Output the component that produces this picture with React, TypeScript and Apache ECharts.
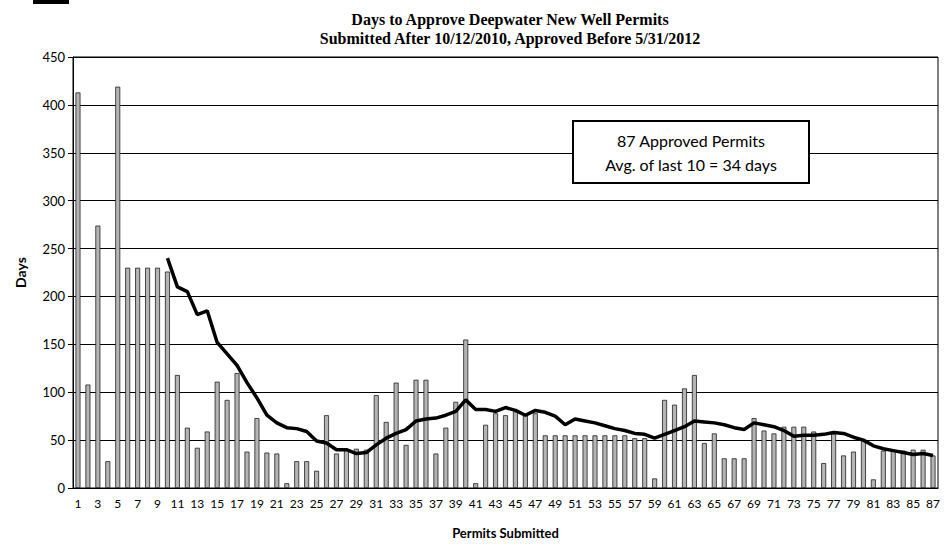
import React, { useEffect, useRef } from "react";
import * as echarts from "echarts";

const permits: string[] = Array.from({ length: 87 }, (_, i) => String(i + 1));

const daysToApprove: number[] = [
  413, 108, 274, 28, 419, 230, 230, 230, 230, 226,
  118, 63, 42, 59, 111, 92, 120, 38, 73, 37,
  36, 5, 28, 28, 18, 76, 36, 40, 41, 40,
  97, 69, 110, 45, 113, 113, 36, 63, 90, 155,
  5, 66, 78, 76, 80, 76, 78, 55, 55, 55,
  55, 55, 55, 55, 55, 55, 52, 52, 10, 92,
  87, 104, 118, 47, 57, 31, 31, 31, 73, 60,
  57, 64, 64, 64, 59, 26, 57, 34, 38, 49,
  9, 39, 39, 39, 40, 40, 34,
];

// moving-average line, for permits 10..87
const maStart = 10;
const movingAvg: number[] = [
  240, 210, 205, 181, 185, 152, 140, 128, 110, 94,
  76, 68, 63, 62, 59, 49, 47, 40, 40, 36,
  37, 45, 52, 57, 61, 70, 72, 73, 76, 80,
  92, 82, 82, 80, 84, 81, 76, 81, 79, 75,
  66, 72, 70, 68, 65, 62, 60, 57, 56, 52,
  56, 60, 64, 70, 69, 68, 66, 63, 61, 68,
  66, 64, 60, 54, 55, 55, 56, 58, 57, 53,
  50, 44, 41, 39, 37, 35, 36, 34,
];

const yTicks = { min: 0, max: 450, interval: 50 };
const titleLines = [
  "Days to Approve Deepwater New Well Permits",
  "Submitted After 10/12/2010, Approved Before 5/31/2012",
];
const noteLines = ["87 Approved Permits", "Avg. of last 10 = 34 days"];

export default function App() {
  const ref = useRef<HTMLDivElement>(null);
  useEffect(() => {
    if (!ref.current) return;
    const chart = echarts.init(ref.current, undefined, { renderer: "svg" });
    const lineData = permits.map((_, i) =>
      i + 1 >= maStart ? movingAvg[i + 1 - maStart] : null
    );
    chart.setOption({
      animation: false,
      backgroundColor: "#fff",
      title: {
        text: titleLines.join("\n"),
        left: 505,
        top: 5,
        textAlign: "center",
        textStyle: {
          fontFamily: "Liberation Serif",
          fontWeight: "bold",
          fontSize: 16,
          lineHeight: 19,
          color: "#000",
        },
      },
      grid: {
        left: 73,
        right: 12,
        top: 57,
        bottom: 62,
        show: true,
        borderColor: "#000",
        borderWidth: 1,
      },
      xAxis: {
        type: "category",
        data: permits,
        name: "Permits Submitted",
        nameLocation: "middle",
        nameGap: 38,
        nameTextStyle: { fontFamily: "Lato", fontWeight: "bold", fontSize: 13, color: "#000" },
        axisLine: { lineStyle: { color: "#000", width: 1 } },
        axisTick: { show: false },
        axisLabel: { interval: 1, fontFamily: "Lato", fontSize: 12, color: "#000", margin: 9 },
      },
      yAxis: {
        type: "value",
        min: yTicks.min,
        max: yTicks.max,
        interval: yTicks.interval,
        name: "Days",
        nameLocation: "middle",
        nameGap: 46,
        nameTextStyle: { fontFamily: "Lato", fontWeight: "bold", fontSize: 14, color: "#000" },
        axisLine: { show: true, lineStyle: { color: "#000", width: 1 } },
        axisTick: { show: true, length: 5, lineStyle: { color: "#000" } },
        axisLabel: { fontFamily: "Lato", fontSize: 13, color: "#000", margin: 8 },
        splitLine: { lineStyle: { color: "#000", width: 1 } },
      },
      series: [
        {
          type: "bar",
          data: daysToApprove,
          barWidth: 5,
          itemStyle: { color: "#b4b4b4", borderColor: "#222", borderWidth: 0.8 },
          z: 2,
        },
        {
          type: "line",
          data: lineData,
          showSymbol: false,
          symbol: "none",
          connectNulls: false,
          lineStyle: { color: "#000", width: 3.5 },
          z: 3,
        },
      ],
      graphic: [
        { type: "rect", shape: { x: 33, y: 0, width: 36, height: 4 }, style: { fill: "#000" } },
        {
          type: "rect",
          shape: { x: 573, y: 121, width: 236, height: 62 },
          style: { fill: "#fff", stroke: "#000", lineWidth: 2 },
          z: 10,
        },
        {
          type: "text",
          x: 691,
          y: 152,
          style: {
            text: noteLines.join("\n"),
            fontFamily: "Lato",
            fontSize: 16,
            lineHeight: 24,
            fill: "#000",
            align: "center",
            verticalAlign: "middle",
          },
          z: 11,
        },
      ],
    });
    return () => chart.dispose();
  }, []);
  return (
    <div
      ref={ref}
      style={{ position: "fixed", left: 0, top: 0, width: 950, height: 550 }}
    />
  );
}
